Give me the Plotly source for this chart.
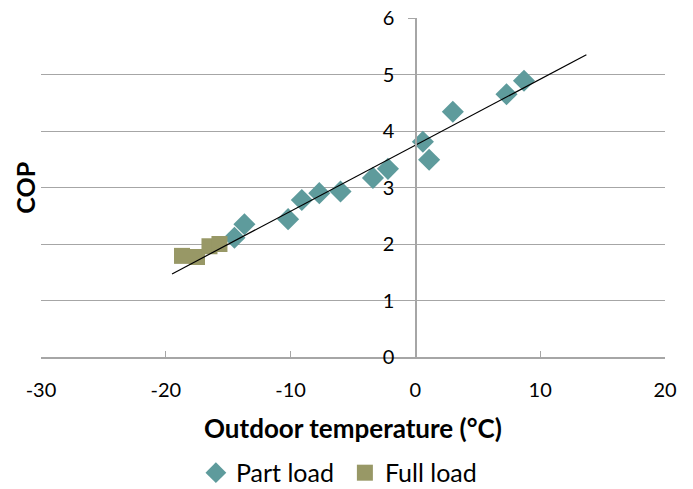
import plotly.graph_objects as go

part_x = [-14.5, -13.7, -10.2, -9.1, -7.7, -6.0, -3.4, -2.2, 0.6, 1.1, 3.0, 7.3, 8.7]
part_y = [2.11, 2.35, 2.44, 2.78, 2.90, 2.93, 3.17, 3.33, 3.81, 3.49, 4.34, 4.65, 4.89]
full_x = [-18.7, -17.5, -16.5, -15.7]
full_y = [1.79, 1.77, 1.96, 2.0]
trend_x = [-19.5, 13.7]
trend_y = [1.47, 5.35]
x_ticks = [-30, -20, -10, 0, 10, 20]
x_labels = ["-30", "-20", "-10", "0", "10", "20"]
y_ticks = [0, 1, 2, 3, 4, 5, 6]

FONT = "Lato"
AX = "#A6A6A6"
fig = go.Figure()
fig.add_trace(go.Scatter(x=part_x, y=part_y, mode="markers", name="Part load",
                         marker=dict(symbol="diamond", size=17, color="#5E9B9C")))
fig.add_trace(go.Scatter(x=full_x, y=full_y, mode="markers", name="Full load",
                         marker=dict(symbol="square", size=16, color="#989866")))
fig.add_trace(go.Scatter(x=trend_x, y=trend_y, mode="lines", showlegend=False,
                         line=dict(color="black", width=1.2)))

fig.update_layout(
    width=693, height=489,
    margin=dict(l=41, r=28, t=18, b=132, autoexpand=False),
    plot_bgcolor="white", paper_bgcolor="white",
    font=dict(family=FONT, size=20, color="black"),
    showlegend=True,
    legend=dict(orientation="h", x=0.487, xanchor="center", y=-0.342, yanchor="middle",
                font=dict(size=25), itemwidth=30, entrywidth=104, entrywidthmode="pixels"),
    xaxis=dict(range=[-30, 20], tickvals=x_ticks, ticktext=x_labels, showgrid=False, zeroline=False,
               showline=True, linecolor=AX, linewidth=1.5, automargin=False,
               ticks="inside", ticklen=6, tickcolor=AX, ticklabelstandoff=14,
               ticklabeloverflow="allow"),
    yaxis=dict(range=[0, 6], tickvals=y_ticks, showgrid=True, gridcolor=AX, gridwidth=1.3,
               zeroline=False, showline=True, linecolor=AX, linewidth=1.5, automargin=False,
               anchor="free", position=0.601, ticks="outside", ticklen=7, tickcolor=AX,
               ticklabelstandoff=10, ticklabeloverflow="allow"),
    annotations=[
        dict(text="<b>COP</b>", textangle=-90, xref="paper", yref="paper",
             x=-0.027, y=0.5, showarrow=False, font=dict(size=25),
             xanchor="center", yanchor="middle"),
        dict(text="<b>Outdoor temperature (°C)</b>", xref="paper", yref="paper",
             x=0.5, y=-0.209, showarrow=False, font=dict(size=26),
             xanchor="center", yanchor="middle"),
    ],
)
fig.write_html("out.html", config={"displayModeBar": False},
               post_script="document.body.style.margin='0';")
